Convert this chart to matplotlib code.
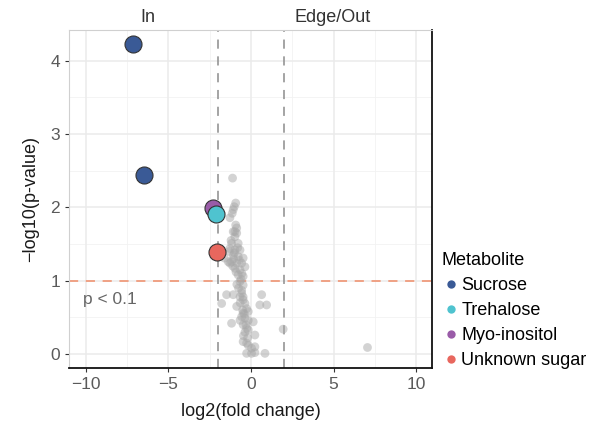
import matplotlib
matplotlib.use("Agg")
import matplotlib.pyplot as plt
from matplotlib.lines import Line2D
import numpy as np

plt.rcParams['font.family'] = ['Liberation Sans', 'DejaVu Sans']

# Background (non-highlighted) metabolites
gray_x = [-1.11, -0.92, -1.01, -1.07, -1.13, -1.27, -0.92, -0.86, -0.97,
          -1.07, -0.86, -0.97, -1.17, -0.77, -1.27, -0.97, -0.66, -1.07, -0.77,
          -0.47, -1.37, -1.17, -0.86, -0.56, -0.97, -0.66, -0.36, -0.77, -0.47,
          -0.66, -0.47, -0.56, -0.66, -0.47, -1.61, -1.27,
          -1.47, -1.07, -0.56, -0.47, -1.77, -0.86, -0.36, -0.26, -0.47, -0.16,
          -0.56, -0.36, -0.66, -0.16, 0.14, -1.17, -0.47, -0.26, -0.36, -0.16,
          0.24, -0.47, -0.26, -0.16, 0.24, 0.04, -0.26, 0.04, 0.24, 0.85,
          0.65, 0.54, 0.95, 1.95, 7.05,
          -1.20, -0.80, -1.00, -0.70, -1.10, -0.90, -0.60, -1.30, -0.85,
          -0.55, -0.75, -1.05, -0.65, -0.50, -0.40, -0.30, -0.45, -0.20]
gray_y = [2.40, 2.06, 2.01, 1.97, 1.92, 1.86, 1.76, 1.72, 1.67,
          1.67, 1.65, 1.60, 1.51, 1.51, 1.44, 1.42, 1.42, 1.35, 1.33,
          1.31, 1.26, 1.26, 1.24, 1.24, 1.17, 1.15, 1.19, 1.08, 1.06,
          0.99, 0.94, 0.87, 0.78, 0.74, 1.31, 1.24,
          0.81, 0.81, 0.83, 0.78, 0.69, 0.65, 0.69, 0.62, 0.56, 0.58,
          0.51, 0.49, 0.46, 0.46, 0.44, 0.42, 0.40, 0.35, 0.30, 0.33,
          0.26, 0.17, 0.15, 0.12, 0.10, 0.08, 0.01, 0.01, 0.02, 0.01,
          0.81, 0.67, 0.67, 0.34, 0.09,
          1.55, 1.45, 1.38, 1.28, 1.20, 1.12, 1.02, 1.40, 0.95,
          1.10, 0.90, 1.30, 0.70, 0.60, 0.55, 0.40, 0.25, 0.22]

# Highlighted metabolites
metabolites = ["Sucrose", "Trehalose", "Myo-inositol", "Unknown sugar"]
colors = ["#3A5A96", "#4FC3CF", "#9A5CA8", "#E8675E"]
hl_name = ["Sucrose", "Sucrose", "Myo-inositol", "Trehalose", "Unknown sugar"]
hl_x = [-7.13, -6.47, -2.30, -2.10, -2.05]
hl_y = [4.23, 2.44, 1.99, 1.91, 1.39]

fig = plt.figure(figsize=(5.96, 4.32), dpi=100)
ax = fig.add_axes([0.1158, 0.1481, 0.6090, 0.7825])

xlim = (-11.0, 10.95)
ylim = (-0.19, 4.42)
ax.set_xlim(*xlim)
ax.set_ylim(*ylim)

# grid
for v in [-7.5, -2.5, 2.5, 7.5]:
    ax.axvline(v, color="#F2F2F2", lw=0.6, zorder=0)
for v in [0.5, 1.5, 2.5, 3.5]:
    ax.axhline(v, color="#F2F2F2", lw=0.6, zorder=0)
for v in [-10, -5, 0, 5, 10]:
    ax.axvline(v, color="#EBEBEB", lw=1.1, zorder=0)
for v in [0, 1, 2, 3, 4]:
    ax.axhline(v, color="#EBEBEB", lw=1.1, zorder=0)

ax.axvline(-2, color="#8C8C8C", lw=1.1, ls=(0, (6, 5)), zorder=1)
ax.axvline(2, color="#8C8C8C", lw=1.1, ls=(0, (6, 5)), zorder=1)
ax.axhline(1, color="#F08C68", lw=1.1, ls=(0, (6, 5)), zorder=1)

ax.scatter(gray_x, gray_y, s=40, color="#A8A8A8", alpha=0.5,
           edgecolors="none", zorder=2)

for n, x, y in zip(hl_name, hl_x, hl_y):
    c = colors[metabolites.index(n)]
    ax.scatter([x], [y], s=150, color=c, edgecolors="#333333",
               linewidths=0.8, zorder=3)

ax.text(-8.5, 0.74, "p < 0.1", fontsize=12.5, color="#666666",
        ha="center", va="center")
ax.text(-6.25, 4.42 + 0.06, "In", fontsize=13, color="#333333",
        ha="center", va="bottom")
ax.text(4.95, 4.42 + 0.06, "Edge/Out", fontsize=13, color="#333333",
        ha="center", va="bottom")

ax.set_xticks([-10, -5, 0, 5, 10])
ax.set_xticklabels(["\u221210", "\u22125", "0", "5", "10"])
ax.set_yticks([0, 1, 2, 3, 4])
ax.tick_params(axis="both", labelsize=12.5, labelcolor="#5A5A5A",
               color="#333333", length=3, width=0.8, direction="out")

for s in ["left", "top"]:
    ax.spines[s].set_color("#D0D0D0")
    ax.spines[s].set_linewidth(0.8)
for s in ["right", "bottom"]:
    ax.spines[s].set_color("#111111")
    ax.spines[s].set_linewidth(1.3)

ax.set_xlabel("log2(fold change)", fontsize=13, color="#1A1A1A", labelpad=8)
ax.set_ylabel("\u2212log10(p-value)", fontsize=13, color="#1A1A1A", labelpad=8)

handles = [Line2D([0], [0], marker="o", ls="none", markersize=6,
                  markerfacecolor=c, markeredgecolor="none") for c in colors]
leg = fig.legend(handles, metabolites, title="Metabolite", loc="upper left",
                 bbox_to_anchor=(0.741, 0.417), frameon=False, fontsize=13,
                 title_fontsize=13, handletextpad=0.1, handlelength=1.0,
                 labelspacing=0.45, borderaxespad=0, borderpad=0)
leg._legend_box.align = "left"

fig.savefig("out.png", dpi=100)
